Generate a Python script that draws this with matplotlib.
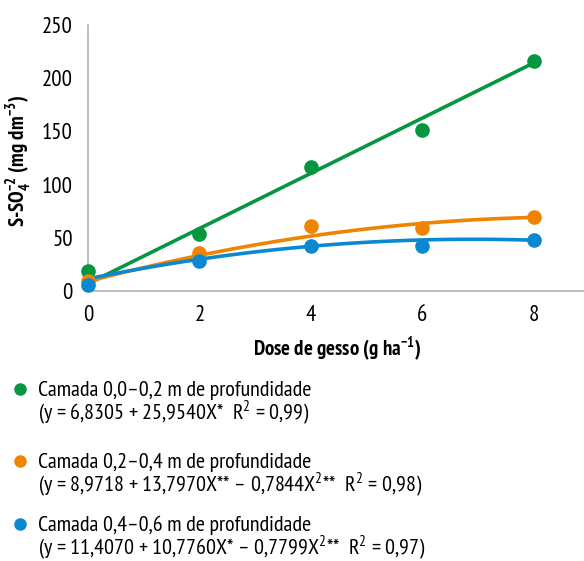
import matplotlib
matplotlib.use("Agg")
import matplotlib.pyplot as plt
from matplotlib.lines import Line2D
import numpy as np

plt.rcParams['font.family'] = ['PT Sans Narrow', 'DejaVu Sans']
plt.rcParams['mathtext.fontset'] = 'custom'
plt.rcParams['mathtext.rm'] = 'PT Sans Narrow'
plt.rcParams['mathtext.bf'] = 'PT Sans Narrow:bold'

# data
doses = [0, 2, 4, 6, 8]
camada_00_02 = [18.8, 53.6, 116.5, 151, 216]
camada_02_04 = [9.4, 35.7, 61, 59, 69.5]
camada_04_06 = [5.6, 28, 42, 42.3, 48]

# fitted equations given in the legend (b0, b1, b2)
coef_00_02 = [6.8305, 25.9540, 0.0]
coef_02_04 = [8.9718, 13.7970, -0.7844]
coef_04_06 = [11.4070, 10.7760, -0.7799]

labels = ["Camada 0,0\u20130,2 m de profundidade",
          "Camada 0,2\u20130,4 m de profundidade",
          "Camada 0,4\u20130,6 m de profundidade"]
eqs = ["(y = 6,8305 + 25,9540X*  R$^2$ = 0,99)",
       "(y = 8,9718 + 13,7970X** \u2013 0,7844X$^2$**  R$^2$ = 0,98)",
       "(y = 11,4070 + 10,7760X* \u2013 0,7799X$^2$**  R$^2$ = 0,97)"]
colors = ["#05963f", "#f08300", "#0a89d2"]

fig = plt.figure(figsize=(5.84, 5.61), dpi=100)
ax = fig.add_axes([0.1507, 0.4813, 0.8493, 0.4741])

xs = np.linspace(0, 8, 100)
series = [camada_00_02, camada_02_04, camada_04_06]
coefs = [coef_00_02, coef_02_04, coef_04_06]
for ys, c, col in zip(series, coefs, colors):
    ax.plot(xs, c[0] + c[1]*xs + c[2]*xs**2, color=col, lw=2.6, zorder=2)
    ax.plot(doses, ys, 'o', color=col, ms=9.5, zorder=3, clip_on=False)

ax.set_xlim(0, 8.9)
ax.set_ylim(0, 250)
ax.set_xticks(doses)
ax.set_yticks(range(0, 251, 50))
ax.tick_params(length=0, labelsize=16.5)
ax.tick_params(axis="x", pad=10)
ax.tick_params(axis="y", pad=11)
for s in ["top", "right"]:
    ax.spines[s].set_visible(False)
for s in ["left", "bottom"]:
    ax.spines[s].set_color("#b3b3b3")
    ax.spines[s].set_linewidth(1.2)

ax.set_xlabel(r"Dose de gesso (g ha$^{\mathbf{-1}}$)", fontsize=15,
              fontweight="bold")
ax.set_ylabel(r"S-SO$_{\mathbf{4}}^{\mathbf{-2}}$ (mg dm$^{\mathbf{-3}}$)", fontsize=15,
              fontweight="bold")
ax.xaxis.set_label_coords(0.503, -0.165)
ax.yaxis.set_label_coords(-0.11, 0.49)

# legend drawn by hand, marker lined up with the first text line
tops = [390, 462, 525]
for lab, eq, col, yp in zip(labels, eqs, colors, tops):
    y1 = 1 - yp / 561
    y2 = 1 - (yp + 23) / 561
    fig.add_artist(Line2D([20 / 584], [y1 + 0.002], marker='o', color=col,
                          ms=8, transform=fig.transFigure))
    fig.text(38 / 584, y1, lab, fontsize=15.8, va="center", ha="left")
    fig.text(38 / 584, y2, eq, fontsize=15.8, va="center", ha="left")

fig.savefig("out.png", dpi=100)
